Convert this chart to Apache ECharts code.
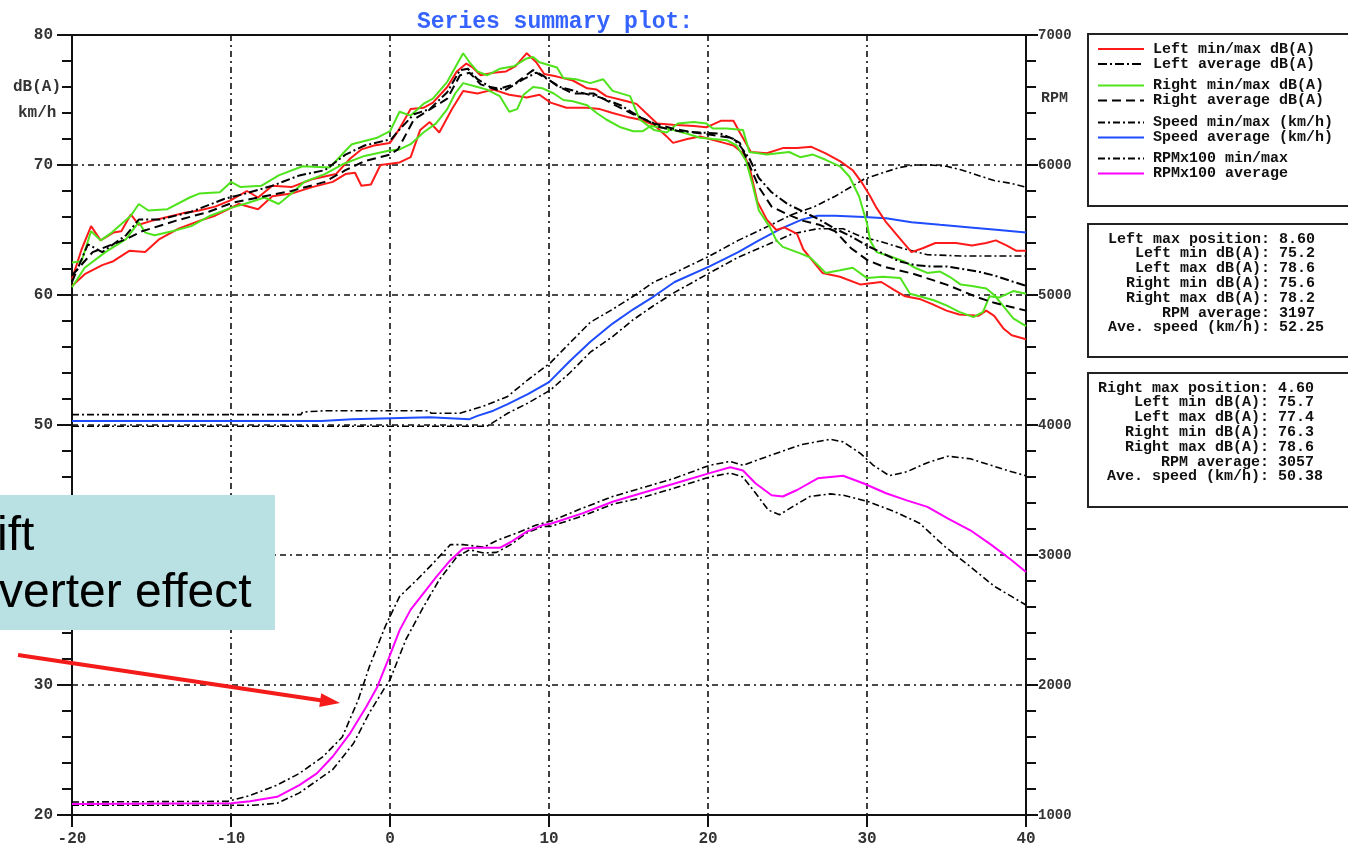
<!DOCTYPE html>
<html>
<head>
<meta charset="utf-8">
<script src="https://cdn.jsdelivr.net/npm/echarts@6/dist/echarts.min.js"></script>
<style>html,body{margin:0;padding:0;background:#fff}#c{width:1348px;height:851px}</style>
</head>
<body>
<div id="c"></div>
<script>
// ---- Left (red) min / max dB(A)
const redMaxX = [-20,-19.4,-18.8,-18.2,-17.4,-16.9,-16.3,-15.8,-15,-14,-13,-12,-11,-10,-9,-8.3,-7.4,-6.2,-4.9,-3.4,-2.5,-1.8,-1,0,0.6,1.3,2.1,2.7,3.6,4.2,4.8,5.2,5.7,6.5,7.3,7.9,8.6,9.2,9.7,10.5,11.5,12.4,13,13.6,14.9,15.5,16.1,16.8,17.8,19.1,19.9,20.8,21.6,22,22.7,23.7,24.7,25.6,26.5,27.4,28.3,29.1,29.7,30.2,30.6,31.2,32.1,32.8,33.5,34.3,35.6,36.6,37.5,38.1,38.8,39.4,40];
const redMaxY = [61.2,63.5,65.3,64.2,64.8,64.9,66.2,65.4,65.7,66.0,66.3,66.5,66.8,67.3,68.0,67.5,68.4,68.3,68.9,69.3,70.5,71.2,71.5,71.7,72.8,74.3,74.4,74.8,76.0,77.2,77.8,77.5,76.9,77.1,77.2,77.6,78.6,77.9,77.0,76.8,76.5,75.9,75.8,75.3,74.9,74.7,74.0,73.2,73.1,73.0,72.9,73.4,73.4,72.5,71.0,70.9,71.3,71.3,71.4,70.9,70.3,69.6,68.6,67.6,66.7,65.6,64.3,63.3,63.6,64.0,64.0,63.8,64.0,64.2,63.8,63.4,63.4];
const redMinX = [-20,-19.2,-18.1,-17.4,-16.4,-15.4,-14.5,-13.3,-12,-11,-9.5,-8.3,-7.4,-6.2,-4.9,-3.6,-2.8,-2.2,-1.8,-1.2,-0.6,0,0.6,1.3,1.9,2.5,3.1,3.9,4.6,5.5,6.5,7.5,8.6,9.4,10.1,11.1,12.4,13.2,14,14.9,15.7,16.6,17.4,17.8,18.7,19.5,20.1,21,21.6,22.2,22.6,23.1,23.7,24.3,24.8,25.6,26,26.4,27.2,28.3,29.6,30.9,31.7,32.4,33.3,34.1,35,35.8,37,37.5,38,38.6,39.1,40];
const redMinY = [60.7,61.6,62.3,62.6,63.4,63.3,64.3,65.1,65.7,66.1,67.0,66.6,67.6,67.8,68.3,68.7,69.3,69.4,68.4,68.5,70.0,70.1,70.2,70.6,72.7,73.3,72.5,74.3,75.7,75.5,75.8,75.4,75.2,75.4,74.8,74.4,74.4,74.3,74.0,73.7,73.5,73.1,72.2,71.7,72.0,72.2,72.0,71.7,71.5,70.9,69.9,67.2,65.8,65.0,65.2,64.7,63.5,62.9,61.7,61.4,60.8,61.0,60.4,59.9,59.7,59.3,58.8,58.5,58.4,58.8,58.4,57.4,56.9,56.6];
// ---- Right (green) min / max dB(A)
const greenMaxX = [-20,-19.4,-18.8,-18.2,-17.5,-16.3,-15.8,-15.2,-14,-12.6,-12,-10.7,-10,-9.4,-8.1,-7,-5.5,-3.8,-2.8,-2.4,-0.8,0,0.6,1.3,2.1,2.7,3.6,4.6,5,5.5,6.1,6.9,7.8,8.6,9,9.4,10.5,10.9,11.7,12.6,13.4,14,15.1,15.7,16.6,17.4,18.1,19.1,19.9,20.3,21.2,22.2,22.6,23.7,25.1,25.8,26.6,27.4,28.3,28.9,29.5,30,30.2,30.6,31.4,32.3,33,33.8,34.6,35.2,35.9,36.6,37.5,38,38.6,39.2,40];
const greenMaxY = [62.5,62.6,64.9,64.2,64.8,66.1,67.0,66.5,66.6,67.5,67.8,67.9,68.7,68.3,68.4,69.2,69.9,69.8,71.1,71.6,72.1,72.6,74.1,73.8,74.7,75.1,76.4,78.6,77.9,77.2,76.9,77.4,77.6,78.2,78.3,77.9,77.5,76.7,76.6,76.3,76.6,75.7,75.3,73.5,72.7,72.5,73.2,73.3,73.2,72.8,72.8,72.7,71.0,70.8,71.0,70.6,70.8,70.4,69.9,69.1,67.6,65.5,64.2,63.3,63.0,62.6,62.1,61.7,61.8,61.4,60.8,60.7,60.5,60.0,59.1,58.2,57.6];
const greenMinX = [-20,-19.2,-17.9,-16.6,-15.8,-15.4,-14.8,-13.7,-12.5,-11.3,-10,-8.9,-7.9,-7,-6.2,-5.4,-4.1,-2.9,-1.6,-0.1,0.6,1.3,2.1,2.9,3.6,4.1,4.6,5.5,6.1,6.9,7.5,8,8.4,9,9.6,10.3,10.9,11.5,12.4,13,13.6,14.5,15.3,15.9,16.4,17,17.8,18.7,19.5,20.3,21.2,21.8,22.4,22.8,23.2,23.9,24.3,24.7,25.8,26.4,27,27.4,28.3,29.1,30,31,32.1,32.7,33.3,34.2,35,35.8,36.7,37.3,37.7,38.3,39.2,40];
const greenMinY = [60.6,62.1,63.3,64.3,65.6,64.8,64.6,64.9,65.3,66.1,66.7,67.1,67.5,67.0,67.8,68.7,69.3,70.1,70.7,71.1,71.2,71.6,72.5,73.2,74.3,75.5,76.3,76.0,75.8,75.3,74.1,74.3,75.4,76.0,75.9,75.5,75.0,74.9,74.6,74.0,73.5,72.9,72.6,72.6,73.0,72.9,72.7,72.4,72.1,72.0,71.9,71.5,70.3,68.5,66.5,65.2,64.2,63.7,63.2,62.9,62.2,61.7,61.9,62.1,61.3,61.4,61.3,60.1,59.9,59.6,59.2,58.7,58.3,58.7,59.9,59.8,60.3,60.1];
// ---- averages dB(A)
const leftAvgX = [-20,-19,-18.1,-16.6,-15.8,-14.5,-12.5,-10.4,-9.1,-7.4,-5.7,-4.1,-2.8,-1.6,0.1,0.5,1.5,2.5,3.6,4.4,4.9,5.5,6.3,7.3,8.4,9.2,9.9,10.7,11.9,13.2,14.5,15.7,17,18.2,19.5,20.8,21.6,22,22.6,23.2,24,25,26,27,28,29,30,31,32,33,34,35,36,37,38,39,40];
const leftAvgY = [61.0,63.9,63.3,64.6,65.8,65.8,66.4,67.4,67.8,68.4,69.2,69.6,70.8,71.5,72.0,72.6,73.9,74.3,75.6,77.3,77.4,76.6,76.0,75.8,76.6,77.1,76.6,76.0,75.6,75.2,74.6,73.7,72.9,72.6,72.5,72.4,72.0,71.5,70.5,69.0,67.9,67.0,66.4,65.8,65.1,64.5,63.8,63.2,62.6,62.3,62.2,62.2,62.0,61.8,61.5,61.1,60.7];
const rightAvgX = [-20,-18.7,-16.6,-15.6,-13.5,-11.4,-9.9,-8.3,-6.2,-4.1,-2.8,-1.6,0,0.5,1.5,3.6,4.4,5,5.7,6.7,7.8,9,9.6,10.5,11.5,12.8,14,15.3,16.6,17.8,19.1,20.3,21.4,22,22.6,23.2,24,25,26,27,28,29,30,31,32,33,34,35,36,37,38,39,40];
const rightAvgY = [61.5,63.3,64.3,64.9,65.7,66.4,67.1,67.5,68.0,68.7,69.6,70.3,70.8,71.2,73.5,75.1,76.9,77.1,76.2,75.8,76.2,77.3,76.9,76.1,75.5,75.5,74.7,73.9,73.2,72.8,72.5,72.3,72.1,71.7,70.0,68.3,66.8,66.2,65.7,65.4,64.9,63.6,62.7,62.2,61.9,61.6,61.2,60.8,60.3,59.8,59.4,59.1,58.8];
// ---- speed (km/h)
const speedAvgX = [-20,-4.3,-4.2,-2.4,-2.3,2.5,2.6,5,5.5,6.5,7.4,8.7,10,11.3,12.6,14,15.3,16.6,17.9,20.1,21.9,23.2,24.6,25.9,26.9,28,29.8,31.2,32.8,34.6,36.5,38.3,40];
const speedAvgY = [50.3,50.3,50.45,50.45,50.6,50.6,50.45,50.45,50.7,51.1,51.6,52.4,53.3,54.9,56.4,57.8,58.9,59.9,61.0,62.2,63.3,64.2,65.1,65.8,66.1,66.1,66.0,65.9,65.6,65.4,65.2,65.0,64.8];
const speedMaxX = [-20,-5.6,-5.5,-4,2.4,2.6,4.4,6,7.4,8.7,10.1,11.3,12.6,14,15.3,16.6,17.9,20.1,21.9,23.8,25.3,26.7,28,29.8,31,32,33,34,35,36,37,38,39,40];
const speedMaxY = [50.8,50.8,51.0,51.1,51.1,50.9,50.9,51.5,52.2,53.5,54.8,56.3,57.9,58.9,59.9,61.0,61.7,63.0,64.2,65.3,66.2,66.8,67.6,68.9,69.4,69.8,70.0,70.0,69.9,69.6,69.2,68.8,68.6,68.3];
const speedMinX = [-20,6.1,7.4,8.7,10.1,11.3,12.6,14,15.3,16.6,17.9,20.1,21.9,23.8,25.3,26.9,28.5,29.8,30.6,32.5,33.8,36,38,40];
const speedMinY = [49.9,49.9,50.9,51.7,52.7,54.0,55.6,56.8,58.1,59.2,60.2,61.7,62.9,63.9,64.7,65.1,65.1,64.4,64.2,63.5,63.1,63.0,63.0,63.0];
// ---- RPM (right axis)
const rpmAvgX = [-20,-10,-8.8,-7.1,-5.7,-4.6,-3.6,-2.5,-1.5,-0.8,0,0.6,1.3,2.1,2.9,3.8,4.6,5.4,6.9,7.6,8.6,9.6,10.1,12.1,14,15.8,17.9,20.1,21.4,22.2,23,24,24.7,25.6,26.9,28.5,29.8,31.2,32.5,33.8,35.1,36.5,37.8,39.1,40];
const rpmAvgY = [1085,1090,1105,1140,1230,1320,1450,1630,1830,1985,2230,2420,2580,2705,2830,2960,3050,3055,3055,3100,3180,3230,3240,3320,3410,3475,3550,3630,3675,3650,3550,3460,3450,3500,3590,3610,3550,3475,3420,3370,3280,3190,3080,2960,2870];
const rpmMaxX = [-20,-10.2,-8.8,-7.1,-5.7,-4.2,-3,-2,-1.3,-0.3,0.6,1.7,2.7,3.8,4.6,5.9,6.7,8,9.2,10.1,12.1,14,15.8,17.9,20.1,21.4,22.2,24,25.9,27.7,28.5,29.6,30.4,31.4,32.5,33.8,35.1,36.5,37.8,39.1,40];
const rpmMaxY = [1100,1105,1150,1230,1320,1450,1600,1885,2140,2450,2680,2810,2935,3080,3080,3060,3110,3170,3230,3260,3360,3450,3515,3590,3690,3720,3690,3770,3850,3890,3870,3780,3690,3610,3640,3710,3760,3740,3690,3640,3610];
const rpmMinX = [-20,-8.6,-7.1,-5.7,-3.6,-2.3,-1.3,-0.3,0,1,2.1,3.1,4.2,5,5.9,6.7,7.6,8.6,9.6,10.1,12.1,14,15.8,17.9,20.1,21.4,22.2,23,23.8,24.5,25.3,26.4,27.7,28.5,30.1,31.7,33.3,34.9,36.5,38,40];
const rpmMinY = [1075,1075,1090,1170,1350,1550,1785,1985,2040,2350,2600,2810,2985,3040,3015,3020,3080,3170,3220,3220,3300,3390,3440,3515,3600,3630,3600,3475,3345,3310,3370,3450,3470,3460,3410,3335,3245,3065,2910,2760,2615];
// ---- axis ticks / labels
const xTicks = {min: -20, max: 40, step: 10};
const dbTicks = {min: 20, max: 80, step: 10};
const rpmTicks = {min: 1000, max: 7000, step: 1000};
const statsLeft = [
  'Left max position: 8.60',
  '   Left min dB(A): 75.2',
  '   Left max dB(A): 78.6',
  '  Right min dB(A): 75.6',
  '  Right max dB(A): 78.2',
  '      RPM average: 3197',
  'Ave. speed (km/h): 52.25'];
const statsRight = [
  'Right max position: 4.60',
  '    Left min dB(A): 75.7',
  '    Left max dB(A): 77.4',
  '   Right min dB(A): 76.3',
  '   Right max dB(A): 78.6',
  '       RPM average: 3057',
  ' Ave. speed (km/h): 50.38'];
const legendGroups = [
  ['Left min/max dB(A)', 'Left average dB(A)'],
  ['Right min/max dB(A)', 'Right average dB(A)'],
  ['Speed min/max (km/h)', 'Speed average (km/h)'],
  ['RPMx100 min/max', 'RPMx100 average']];

const MONO = '"Liberation Mono", "DejaVu Sans Mono", monospace';
const pairs = (xs, ys) => xs.map((x, i) => [x, ys[i]]);
const line = (name, xs, ys, color, width, type, yAxisIndex, z) => ({
  name, type: 'line', data: pairs(xs, ys), yAxisIndex: yAxisIndex || 0,
  showSymbol: false, symbol: 'none', smooth: false, silent: true, z: z || 2,
  lineStyle: {color, width, type: type || 'solid'}, itemStyle: {color}
});
const gridDash = [6, 4, 2, 4];

const series = [
  line('Speed min/max (km/h)', speedMaxX, speedMaxY, '#000', 1.6, [7, 3, 2, 3]),
  line('Speed min/max (km/h)', speedMinX, speedMinY, '#000', 1.6, [7, 3, 2, 3]),
  line('Speed average (km/h)', speedAvgX, speedAvgY, '#1f4cff', 2),
  line('RPMx100 min/max', rpmMaxX, rpmMaxY, '#000', 1.6, [7, 3, 2, 3], 1),
  line('RPMx100 min/max', rpmMinX, rpmMinY, '#000', 1.6, [7, 3, 2, 3], 1),
  line('RPMx100 average', rpmAvgX, rpmAvgY, '#ff00ff', 2, 'solid', 1),
  line('Left min/max dB(A)', redMaxX, redMaxY, '#ff1a1a', 2),
  line('Left min/max dB(A)', redMinX, redMinY, '#ff1a1a', 2),
  line('Right min/max dB(A)', greenMaxX, greenMaxY, '#4fe31c', 2),
  line('Right min/max dB(A)', greenMinX, greenMinY, '#4fe31c', 2),
  line('Left average dB(A)', leftAvgX, leftAvgY, '#000', 2, [9, 3, 2, 3]),
  line('Right average dB(A)', rightAvgX, rightAvgY, '#000', 2, [9, 5])
];

const legendCenters = [49, 85.5, 122.5, 158.5];
const legends = legendGroups.map((names, i) => ({
  data: names, orient: 'vertical', left: 1097, top: legendCenters[i] - 7.5,
  itemWidth: 46, itemHeight: 15, itemGap: 0, padding: 0, selectedMode: false,
  itemStyle: {opacity: 0, borderWidth: 0},
  textStyle: {fontFamily: MONO, fontSize: 15, fontWeight: 'bold', color: '#111', lineHeight: 15, padding: [0, 0, 0, 4]}
}));

const chart = echarts.init(document.getElementById('c'), null, {renderer: 'canvas'});
chart.setOption({
  backgroundColor: '#fff',
  animation: false,
  title: {
    text: 'Series summary plot:', left: 412, top: 6,
    textStyle: {fontFamily: MONO, fontSize: 23, fontWeight: 'bold', color: '#3563ff'}
  },
  legend: legends,
  grid: {left: 72, right: 322, top: 35, bottom: 36, show: true, borderColor: '#111', borderWidth: 2, backgroundColor: 'transparent'},
  xAxis: {
    type: 'value', min: xTicks.min, max: xTicks.max, interval: xTicks.step,
    axisLine: {show: true, onZero: false, lineStyle: {color: '#111', width: 2}},
    axisTick: {show: true, length: 12, inside: false, lineStyle: {color: '#111', width: 2}},
    axisLabel: {margin: 16, fontFamily: MONO, fontSize: 16, fontWeight: 'bold', color: '#333'},
    splitLine: {show: true, lineStyle: {color: '#111', width: 1.6, type: gridDash}}
  },
  yAxis: [{
    type: 'value', min: dbTicks.min, max: dbTicks.max, interval: dbTicks.step, position: 'left',
    axisLine: {show: true, onZero: false, lineStyle: {color: '#111', width: 2}},
    axisTick: {show: true, length: 15, inside: false, lineStyle: {color: '#111', width: 2}},
    minorTick: {show: true, splitNumber: 5, length: 10, lineStyle: {color: '#111', width: 2}},
    axisLabel: {margin: 19, fontFamily: MONO, fontSize: 16, fontWeight: 'bold', color: '#333'},
    splitLine: {show: true, lineStyle: {color: '#111', width: 1.6, type: gridDash}}
  }, {
    type: 'value', min: rpmTicks.min, max: rpmTicks.max, interval: rpmTicks.step, position: 'right',
    axisLine: {show: true, onZero: false, lineStyle: {color: '#111', width: 2}},
    axisTick: {show: true, length: 12, inside: false, lineStyle: {color: '#111', width: 2}},
    minorTick: {show: true, splitNumber: 5, length: 10, lineStyle: {color: '#111', width: 2}},
    axisLabel: {margin: 12, fontFamily: MONO, fontSize: 14, fontWeight: 'bold', color: '#333', formatter: (v) => String(v)},
    splitLine: {show: false}
  }],
  series,
  graphic: [
    {type: 'text', left: 13, top: 79, silent: true, style: {text: 'dB(A)', font: 'bold 16px ' + MONO, fill: '#333'}},
    {type: 'text', left: 18, top: 105, silent: true, style: {text: 'km/h', font: 'bold 16px ' + MONO, fill: '#333'}},
    {type: 'text', left: 1041, top: 91, silent: true, style: {text: 'RPM', font: 'bold 15px ' + MONO, fill: '#333'}},
    {type: 'rect', silent: true, shape: {x: 1088, y: 34, width: 300, height: 172}, style: {fill: '#fff', stroke: '#222', lineWidth: 2}, z: 0},
    {type: 'rect', silent: true, shape: {x: 1088, y: 224, width: 300, height: 133}, style: {fill: '#fff', stroke: '#222', lineWidth: 2}},
    {type: 'rect', silent: true, shape: {x: 1088, y: 373, width: 300, height: 134}, style: {fill: '#fff', stroke: '#222', lineWidth: 2}},
    {type: 'text', silent: true, x: 1108, y: 231.5, style: {text: statsLeft.join('\n'), font: 'bold 15px ' + MONO, fill: '#111', lineHeight: 14.8}},
    {type: 'text', silent: true, x: 1098, y: 380.5, style: {text: statsRight.join('\n'), font: 'bold 15px ' + MONO, fill: '#111', lineHeight: 14.8}},
    // annotation box and arrow
    {type: 'rect', silent: true, z: 100, shape: {x: 0, y: 495, width: 275, height: 135}, style: {fill: '#b9e0e3'}},
    {type: 'text', silent: true, z: 101, x: -3, y: 537, style: {text: 'ift', font: '48px "Liberation Sans", Arial, sans-serif', fill: '#000', verticalAlign: 'middle'}},
    {type: 'text', silent: true, z: 101, x: -1, y: 594, style: {text: 'verter effect', font: '48px "Liberation Sans", Arial, sans-serif', fill: '#000', verticalAlign: 'middle'}},
    {type: 'line', silent: true, z: 101, shape: {x1: 18, y1: 655, x2: 322, y2: 700.4}, style: {stroke: '#f41b1b', lineWidth: 4}},
    {type: 'polygon', silent: true, z: 101, shape: {points: [[340, 703], [321.2, 693.2], [319.2, 707]]}, style: {fill: '#f41b1b'}}
  ]
});
</script>
</body>
</html>
